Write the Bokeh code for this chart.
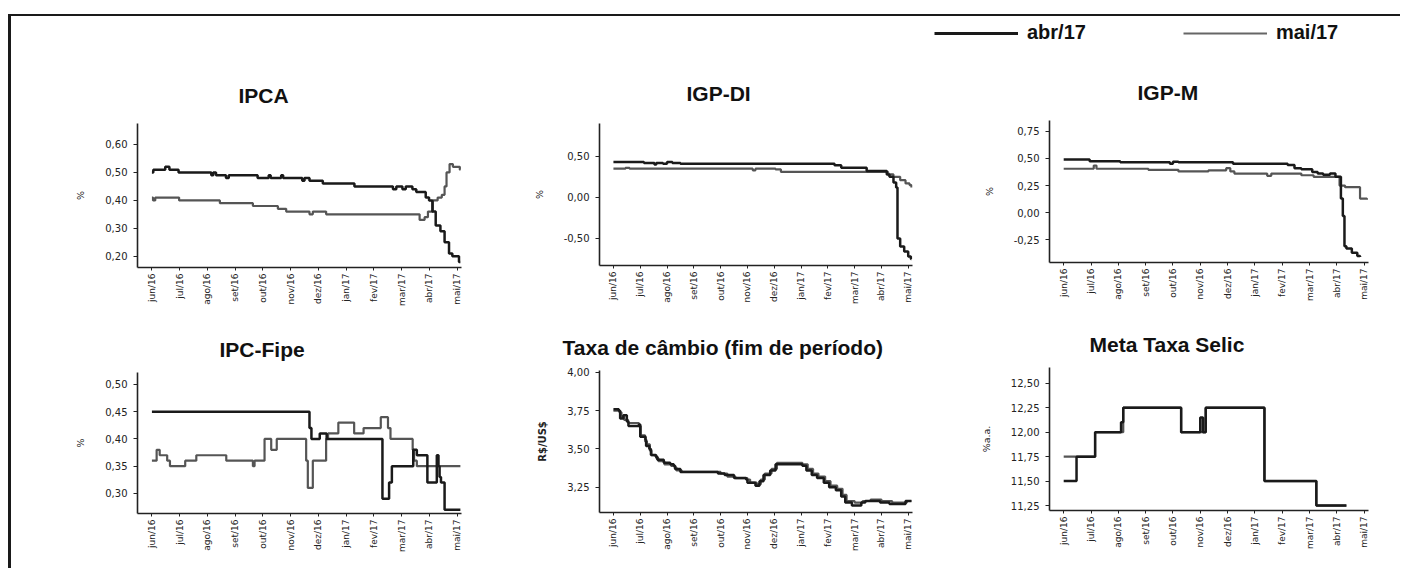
import math
from bokeh.plotting import figure
from bokeh.layouts import column, row
from bokeh.models import Range1d, FixedTicker, CustomJSTickFormatter, Legend, LegendItem
from bokeh.embed import file_html
from bokeh.resources import INLINE

# ---------------- data ----------------
month_labels = ["jun/16", "jul/16", "ago/16", "set/16", "out/16", "nov/16",
                "dez/16", "jan/17", "fev/17", "mar/17", "abr/17", "mai/17"]
month_pos = list(range(12))
series_names = ["abr/17", "mai/17"]

ipca_abr_x = [0.00, 0.05, 0.48, 0.63, 0.96, 2.14, 2.21, 2.31, 2.67, 2.77, 3.81, 4.21, 4.28, 4.66, 4.73,
              5.42, 5.50, 5.68, 6.16, 7.30, 8.69, 8.81, 9.03, 9.15, 9.39, 9.53, 9.87, 9.99, 10.11, 10.23,
              10.40, 10.55, 10.71, 10.83, 11.07, 11.12]
ipca_abr_y = [0.50, 0.51, 0.52, 0.51, 0.50, 0.49, 0.50, 0.49, 0.48, 0.49, 0.48, 0.49, 0.48, 0.49, 0.48,
              0.47, 0.48, 0.47, 0.46, 0.45, 0.44, 0.45, 0.44, 0.45, 0.44, 0.43, 0.41, 0.40, 0.36, 0.31,
              0.29, 0.25, 0.21, 0.20, 0.18, 0.18]
ipca_mai_x = [0.00, 0.04, 0.12, 0.98, 2.45, 3.64, 4.54, 4.84, 5.68, 5.80, 6.28, 9.65, 9.83, 9.95, 10.13,
              10.30, 10.45, 10.55, 10.62, 10.73, 10.85, 11.10, 11.12]
ipca_mai_y = [0.41, 0.40, 0.41, 0.40, 0.39, 0.38, 0.37, 0.36, 0.35, 0.36, 0.35, 0.33, 0.34, 0.36, 0.40,
              0.41, 0.42, 0.45, 0.50, 0.53, 0.52, 0.51, 0.51]

igpdi_abr_x = [0.00, 1.14, 1.53, 1.60, 1.85, 2.00, 2.20, 2.50, 8.25, 8.50, 9.45, 10.20, 10.30, 10.45,
               10.55, 10.60, 10.70, 10.85, 11.00, 11.10, 11.12]
igpdi_abr_y = [0.43, 0.42, 0.40, 0.42, 0.41, 0.43, 0.42, 0.41, 0.39, 0.36, 0.32, 0.28, 0.25, 0.18,
               0.12, -0.50, -0.60, -0.66, -0.72, -0.75, -0.75]
igpdi_mai_x = [0.00, 0.45, 0.60, 5.20, 5.30, 6.05, 6.25, 10.25, 10.45, 10.70, 10.90, 11.05, 11.12]
igpdi_mai_y = [0.35, 0.36, 0.35, 0.33, 0.35, 0.34, 0.31, 0.28, 0.25, 0.21, 0.17, 0.15, 0.12]

igpm_abr_x = [0.00, 0.95, 2.07, 3.89, 4.00, 4.20, 6.20, 8.20, 8.45, 8.70, 9.10, 9.30, 9.50, 9.75, 9.95,
              10.15, 10.22, 10.28, 10.35, 10.55, 10.75, 10.85]
igpm_abr_y = [0.49, 0.475, 0.465, 0.45, 0.47, 0.465, 0.45, 0.44, 0.41, 0.40, 0.375, 0.36, 0.35, 0.36, 0.33,
              0.13, -0.03, -0.31, -0.33, -0.37, -0.40, -0.41]
igpm_mai_x = [0.00, 1.10, 1.20, 3.10, 4.20, 5.30, 5.95, 6.10, 6.25, 7.45, 7.60, 8.70, 9.15, 10.10, 10.30,
              10.85, 11.10]
igpm_mai_y = [0.405, 0.435, 0.405, 0.395, 0.38, 0.39, 0.41, 0.38, 0.36, 0.34, 0.36, 0.345, 0.33, 0.25, 0.235,
              0.13, 0.12]

fipe_abr_x = [0.00, 5.68, 5.75, 6.05, 6.30, 8.31, 8.55, 8.65, 9.42, 9.55, 9.93, 10.27, 10.33, 10.37, 10.42,
              10.55, 11.12]
fipe_abr_y = [0.45, 0.42, 0.40, 0.41, 0.40, 0.29, 0.32, 0.35, 0.38, 0.37, 0.32, 0.37, 0.35, 0.33, 0.32,
              0.27, 0.27]
fipe_mai_x = [0.00, 0.17, 0.28, 0.55, 0.65, 1.20, 1.60, 2.68, 3.64, 3.70, 4.06, 4.30, 4.50, 5.56, 5.62,
              5.80, 6.28, 6.35, 6.50, 6.72, 7.29, 7.63, 8.25, 8.51, 8.60, 8.70, 9.40, 9.45, 9.55, 11.12]
fipe_mai_y = [0.36, 0.38, 0.37, 0.36, 0.35, 0.36, 0.37, 0.36, 0.35, 0.36, 0.40, 0.38, 0.40, 0.36, 0.31,
              0.36, 0.40, 0.41, 0.41, 0.43, 0.41, 0.42, 0.44, 0.42, 0.40, 0.40, 0.38, 0.36, 0.35, 0.35]

cambio_abr_x = [0.00, 0.20, 0.25, 0.37, 0.50, 0.56, 0.95, 1.00, 1.20, 1.22, 1.34, 1.40, 1.58, 1.64, 1.88,
                2.12, 2.25, 2.30, 2.50, 3.90, 4.15, 4.50, 4.95, 5.00, 5.30, 5.45, 5.60, 5.85, 6.05, 7.05,
                7.20, 7.40, 7.60, 7.85, 8.05, 8.30, 8.50, 8.65, 8.90, 9.25, 9.40, 9.95, 10.30, 10.90, 11.12]
cambio_abr_y = [3.76, 3.75, 3.70, 3.72, 3.68, 3.65, 3.66, 3.58, 3.56, 3.52, 3.50, 3.46, 3.45, 3.43, 3.41,
                3.40, 3.39, 3.37, 3.35, 3.34, 3.33, 3.31, 3.30, 3.28, 3.26, 3.29, 3.33, 3.36, 3.40, 3.39,
                3.36, 3.33, 3.31, 3.28, 3.25, 3.23, 3.19, 3.15, 3.13, 3.15, 3.16, 3.15, 3.14, 3.16, 3.16]
cambio_mai_x = [0.00, 0.22, 0.30, 0.40, 0.55, 0.95, 1.02, 1.18, 1.25, 1.36, 1.42, 1.60, 1.68, 1.90, 2.15,
                2.28, 2.35, 2.55, 4.00, 4.25, 4.55, 5.00, 5.10, 5.35, 5.50, 5.65, 5.90, 6.10, 7.05, 7.25,
                7.45, 7.65, 7.90, 8.10, 8.35, 8.55, 8.70, 9.00, 9.30, 9.60, 10.00, 10.40, 10.95, 11.12]
cambio_mai_y = [3.75, 3.74, 3.71, 3.69, 3.67, 3.65, 3.59, 3.55, 3.53, 3.49, 3.46, 3.44, 3.42, 3.40, 3.39,
                3.38, 3.36, 3.35, 3.34, 3.32, 3.31, 3.30, 3.28, 3.27, 3.30, 3.34, 3.37, 3.41, 3.40, 3.37,
                3.34, 3.32, 3.29, 3.26, 3.24, 3.20, 3.16, 3.15, 3.16, 3.17, 3.16, 3.15, 3.16, 3.16]

selic_abr_x = [0.00, 0.47, 1.15, 2.10, 2.18, 4.30, 5.00, 5.10, 5.20, 7.35, 9.25, 10.35]
selic_abr_y = [11.50, 11.75, 12.00, 12.10, 12.25, 12.00, 12.15, 12.00, 12.25, 11.50, 11.25, 11.25]
selic_mai_x = [0.00, 1.15, 2.18, 4.30, 5.20, 7.35, 9.25, 10.35]
selic_mai_y = [11.75, 12.00, 12.25, 12.00, 12.25, 11.50, 11.25, 11.25]

ipca_ticks = [0.20, 0.30, 0.40, 0.50, 0.60]
igpdi_ticks = [-0.50, 0.00, 0.50]
igpm_ticks = [-0.25, 0.00, 0.25, 0.50, 0.75]
fipe_ticks = [0.30, 0.35, 0.40, 0.45, 0.50]
cambio_ticks = [3.25, 3.50, 3.75, 4.00]
selic_ticks = [11.25, 11.50, 11.75, 12.00, 12.25, 12.50]

# ---------------- styling ----------------
ABR_COLOR = "#1a1a1a"
MAI_COLOR = "#555555"
TITLE_FONT = "Liberation Sans"
TICK_FONT = "DejaVu Sans"

comma_fmt = CustomJSTickFormatter(code="return tick.toFixed(2).replace('.', ',');")


def panel(title, ylabel, xa, ya, xm, ym, yr, yticks, width, left, right, top, frame_h, bottom,
          title_offset, title_standoff, ylabel_bold=False):
    p = figure(width=width, height=top + frame_h + bottom,
               x_range=Range1d(-0.52, 11.16), y_range=Range1d(*yr),
               output_backend="svg", toolbar_location=None,
               min_border_left=left, min_border_right=right,
               min_border_top=top, min_border_bottom=bottom, title=title)
    p.step(xm, ym, mode="after", line_color=MAI_COLOR, line_width=2.2)
    p.step(xa, ya, mode="after", line_color=ABR_COLOR, line_width=2.5)
    p.title.text_font = TITLE_FONT
    p.title.text_font_size = "21px"
    p.title.text_font_style = "bold"
    p.title.text_color = "#111111"
    p.title.align = "left"
    p.title.offset = title_offset
    p.title.standoff = title_standoff
    p.grid.visible = False
    p.outline_line_color = None
    p.background_fill_color = "white"
    p.border_fill_color = "white"

    p.xaxis.ticker = FixedTicker(ticks=month_pos)
    p.xaxis.major_label_overrides = dict(zip(month_pos, month_labels))
    p.xaxis.major_label_orientation = math.pi / 2
    p.xaxis.major_label_text_font_size = "9px"
    p.xaxis.major_label_standoff = 3
    p.xaxis.axis_label = None
    p.xaxis.axis_label_standoff = 0
    p.xaxis.major_tick_out = 3

    p.yaxis.ticker = FixedTicker(ticks=yticks)
    p.yaxis.formatter = comma_fmt
    p.yaxis.major_label_text_font_size = "10px"
    p.yaxis.major_label_standoff = 6
    p.yaxis.major_tick_out = 4
    p.yaxis.axis_label = ylabel
    p.yaxis.axis_label_text_font = TICK_FONT
    p.yaxis.axis_label_text_font_style = "bold" if ylabel_bold else "normal"
    p.yaxis.axis_label_text_font_size = "10px" if ylabel_bold else "9.5px"
    p.yaxis.axis_label_standoff = 16
    p.yaxis.axis_label_text_color = "#222222"

    for ax in (p.xaxis, p.yaxis):
        ax.axis_line_color = "#222222"
        ax.axis_line_width = 1.6
        ax.major_tick_line_color = "#222222"
        ax.major_tick_in = 0
        ax.minor_tick_line_color = None
        ax.major_label_text_font = TICK_FONT
        ax.major_label_text_color = "#222222"
    return p


# header strip holding the legend of the two survey dates
header = figure(width=1392, height=36, x_range=Range1d(0, 1), y_range=Range1d(0, 1),
                output_backend="svg", toolbar_location=None,
                min_border_left=0, min_border_right=0, min_border_top=0, min_border_bottom=0)
header.axis.visible = False
header.grid.visible = False
header.outline_line_color = None
r_abr = header.line(x=[0], y=[float("nan")], line_color=ABR_COLOR, line_width=3)
r_mai = header.line(x=[0], y=[float("nan")], line_color="#666666", line_width=2)
legend = Legend(items=[LegendItem(label=series_names[0], renderers=[r_abr]),
                       LegendItem(label=series_names[1], renderers=[r_mai])],
                orientation="horizontal", location=(923, 8),
                glyph_width=84, glyph_height=20, label_standoff=9, spacing=97,
                padding=0, margin=0, border_line_color=None, background_fill_alpha=0,
                label_text_font=TITLE_FONT, label_text_font_size="20px",
                label_text_font_style="bold", label_text_color="#111111",
                label_text_baseline="alphabetic")
header.add_layout(legend, "center")

B1 = 54
f1 = panel("IPCA", "%", ipca_abr_x, ipca_abr_y, ipca_mai_x, ipca_mai_y, (0.16, 0.675), ipca_ticks,
           519, 126, 69, 71, 144, B1, 101, 34)
f2 = panel("IGP-DI", "%", igpdi_abr_x, igpdi_abr_y, igpdi_mai_x, igpdi_mai_y, (-0.83, 0.90),
           igpdi_ticks, 395, 65, 13, 71, 142, B1, 87, 37)
f3 = panel("IGP-M", "%", igpm_abr_x, igpm_abr_y, igpm_mai_x, igpm_mai_y, (-0.46, 0.85),
           igpm_ticks, 478, 124, 35, 68, 142, B1, 88, 33)
f4 = panel("IPC-Fipe", "%", fipe_abr_x, fipe_abr_y, fipe_mai_x, fipe_mai_y, (0.263, 0.522),
           fipe_ticks, 519, 125, 69, 51, 141, 57, 82, 24)
f5 = panel("Taxa de câmbio (fim de período)", "R$/US$", cambio_abr_x, cambio_abr_y, cambio_mai_x,
           cambio_mai_y, (3.085, 4.013), cambio_ticks, 395, 58, 13, 51, 142, 58, -37, 24,
           ylabel_bold=True)
f6 = panel("Meta Taxa Selic", "%a.a.", selic_abr_x, selic_abr_y, selic_mai_x, selic_mai_y,
           (11.20, 12.66), selic_ticks, 478, 124, 33, 51, 143, 60, 40, 24)

grid = row(column(f1, f4), column(f2, f5), column(f3, f6))
layout = column(header, grid,
                styles={"margin-left": "11px", "margin-top": "16px",
                        "box-shadow": "-3px -2px 0 0 #1a1a1a"})

open("out.html", "w").write(file_html(layout, INLINE))
